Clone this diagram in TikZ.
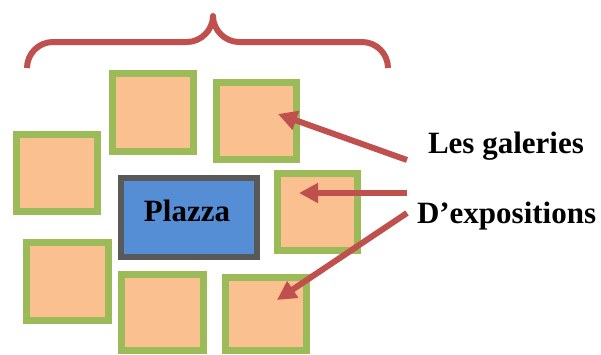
\documentclass[tikz,border=0pt]{standalone}
\usepackage{fontspec}
\setmainfont{Liberation Serif}
\usetikzlibrary{arrows.meta}

\definecolor{roomfill}{HTML}{FAC090}
\definecolor{roomedge}{HTML}{9BBB59}
\definecolor{plazafill}{HTML}{558ED5}
\definecolor{plazaedge}{HTML}{595959}
\definecolor{accentred}{HTML}{C0504D}

\tikzset{
  gallery/.style={draw=roomedge, fill=roomfill, line width=6.6pt,
    inner sep=0pt, outer sep=0pt},
  plaza/.style={draw=plazaedge, fill=plazafill, line width=6pt,
    inner sep=0pt, outer sep=0pt,
    minimum width=136pt, minimum height=79pt},
  caption/.style={inner sep=0pt, outer sep=0pt,
    font=\fontsize{31}{36}\selectfont\bfseries},
  pointer/.style={draw=accentred, line width=6pt,
    -{Triangle[length=19pt,width=19pt]}, fill=accentred},
  bracket/.style={draw=accentred, line width=6pt, line join=round}
}

\begin{document}
\begin{tikzpicture}[x=1pt, y=-1pt]
  \useasboundingbox (0,0) rectangle (601,354);

  % gallery squares around the plaza
  \node[gallery, minimum width=81.4pt, minimum height=78.4pt] (g1) at (153,112.5) {};
  \node[gallery, minimum width=80.4pt, minimum height=77.4pt] (g2) at (256.5,121) {};
  \node[gallery, minimum width=81.4pt, minimum height=77.4pt] (g3) at (57,173) {};
  \node[gallery, minimum width=80.4pt, minimum height=77.4pt] (g4) at (317.5,212) {};
  \node[gallery, minimum width=82.4pt, minimum height=78.4pt] (g5) at (67.5,281.5) {};
  \node[gallery, minimum width=82.4pt, minimum height=75.9pt] (g6) at (162.5,312.25) {};
  \node[gallery, minimum width=81.4pt, minimum height=72.9pt] (g7) at (266,313.75) {};

  % central plaza
  \node[plaza] (plaza) at (189,217.5) {};
  \node[caption, anchor=base] (plazaname) at (187,221) {Plazza};

  % captions on the right
  \node[caption, anchor=base west] (galeries) at (428,153) {Les galeries};
  \node[caption, anchor=base west] (expos) at (417,223) {D’expositions};

  % arrow ends
  \coordinate (t1) at (407,160);
  \coordinate (t2) at (407,193);
  \coordinate (t3) at (407,213);
  \coordinate (h1) at (278,114);
  \coordinate (h2) at (299,193);
  \coordinate (h3) at (277,300);

  \draw[pointer] (t1) -- (h1);
  \draw[pointer] (t2) -- (h2);
  \draw[pointer] (t3) -- (h3);

  % curly brace over the galleries
  \draw[bracket] (27,68)
    .. controls (27,53.7) and (38.7,42) .. (53,42)
    -- (187,42)
    .. controls (201,42) and (213,30) .. (213,16)
    .. controls (213,30) and (225,42) .. (239,42)
    -- (362,42)
    .. controls (376.3,42) and (388,53.7) .. (388,68);
\end{tikzpicture}
\end{document}
